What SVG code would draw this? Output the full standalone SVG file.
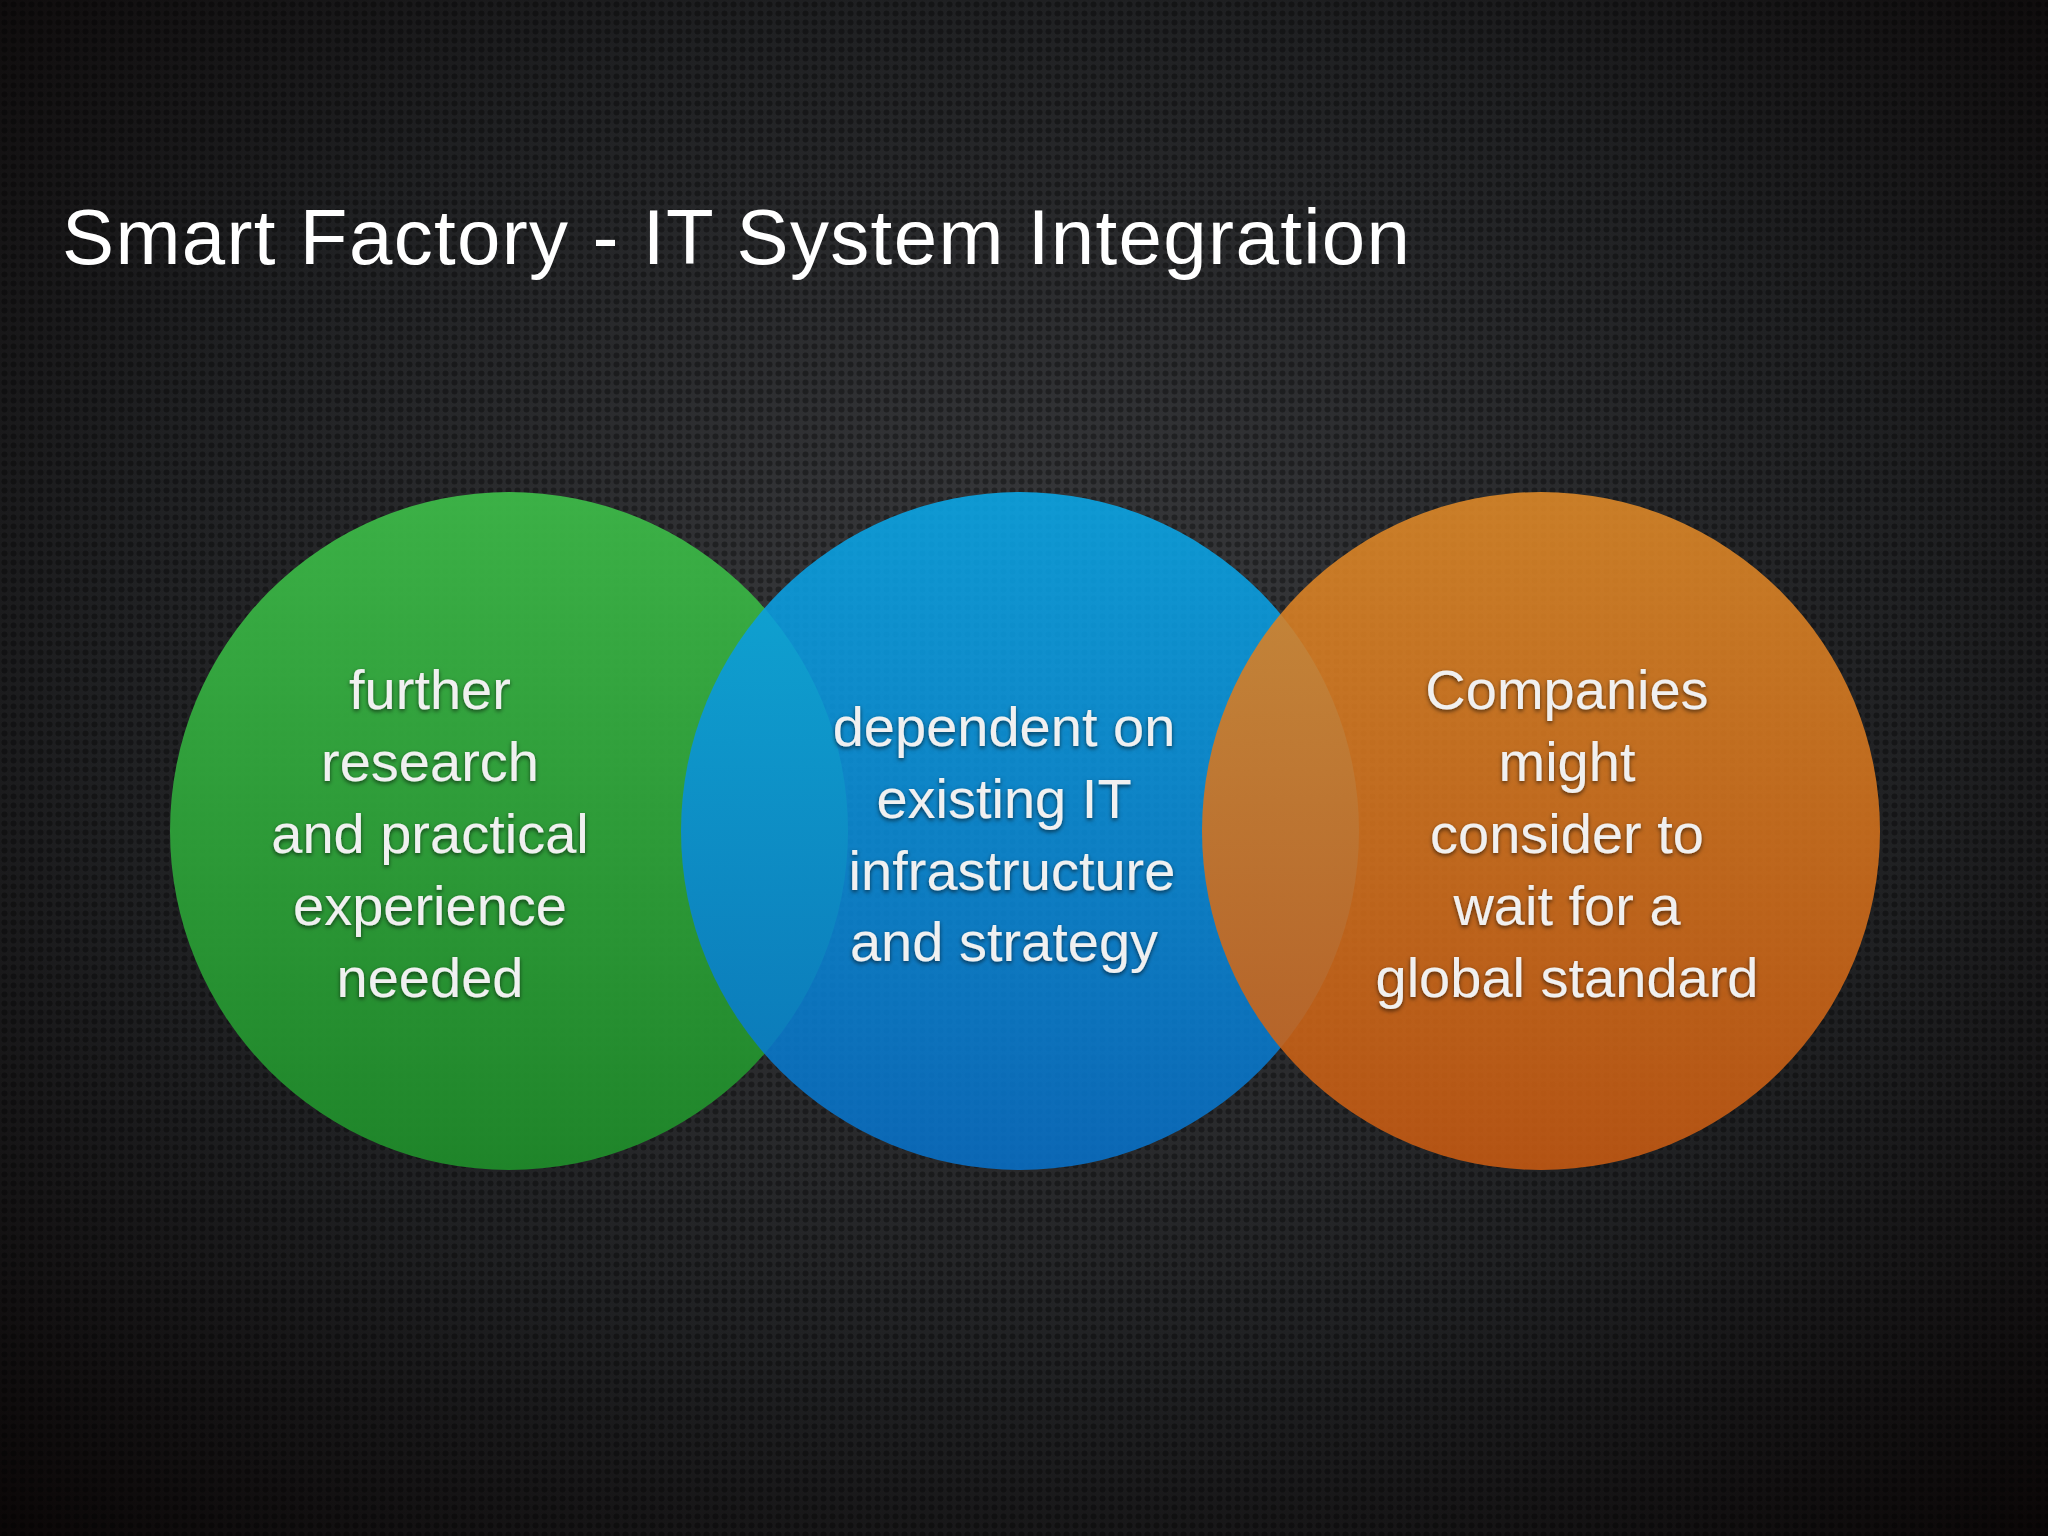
<svg xmlns="http://www.w3.org/2000/svg" width="2048" height="1536" viewBox="0 0 2048 1536">
<defs>
<radialGradient id="bg" cx="50%" cy="45%" r="75%">
<stop offset="0" stop-color="#3c3d40"/><stop offset="0.6" stop-color="#1f2022"/><stop offset="1" stop-color="#0a0606"/>
</radialGradient>
<pattern id="dots" width="9" height="9" patternUnits="userSpaceOnUse">
<circle cx="4.5" cy="4.5" r="3" fill="#000" opacity="0.35"/>
</pattern>
<linearGradient id="gG" x1="0" y1="0" x2="0" y2="1"><stop offset="0" stop-color="#3db848"/><stop offset="1" stop-color="#1f8a2a"/></linearGradient>
<linearGradient id="gB" x1="0" y1="0" x2="0" y2="1"><stop offset="0" stop-color="#0aa8e8"/><stop offset="1" stop-color="#0870c8"/></linearGradient>
<linearGradient id="gO" x1="0" y1="0" x2="0" y2="1"><stop offset="0" stop-color="#e08a28"/><stop offset="1" stop-color="#c85a12"/></linearGradient>
<filter id="sh"><feDropShadow dx="0" dy="2" stdDeviation="2" flood-color="#000" flood-opacity="0.6"/></filter>
</defs>
<style>
.t{font-family:"Helvetica Neue","Liberation Sans",Arial,sans-serif;fill:#fff}
.c{font-size:56px;text-anchor:middle;fill:#f0f0f0;filter:url(#sh)}
</style>
<rect width="2048" height="1536" fill="url(#bg)"/>
<rect width="2048" height="1536" fill="url(#dots)"/>
<text class="t" x="62" y="264" font-size="78" textLength="1348" lengthAdjust="spacing">Smart Factory - IT System Integration</text>
<g id="green"><circle cx="509" cy="831" r="339" fill="url(#gG)" opacity="0.95"/></g>
<g id="blue"><circle cx="1020" cy="831" r="339" fill="url(#gB)" opacity="0.88"/></g>
<g id="orange"><circle cx="1541" cy="831" r="339" fill="url(#gO)" opacity="0.88"/></g>
<g id="labels">
<text class="t c"><tspan x="430" y="709">further</tspan><tspan x="430" y="781">research</tspan><tspan x="430" y="853">and practical</tspan><tspan x="430" y="925">experience</tspan><tspan x="430" y="997">needed</tspan></text>
<text class="t c"><tspan x="1004" y="746">dependent on</tspan><tspan x="1004" y="818">existing IT</tspan><tspan x="1012" y="890">infrastructure</tspan><tspan x="1004" y="961">and strategy</tspan></text>
<text class="t c"><tspan x="1567" y="709">Companies</tspan><tspan x="1567" y="781">might</tspan><tspan x="1567" y="853">consider to</tspan><tspan x="1567" y="925">wait for a</tspan><tspan x="1567" y="997">global standard</tspan></text>
</g>
<g id="connectors"/>
</svg>
